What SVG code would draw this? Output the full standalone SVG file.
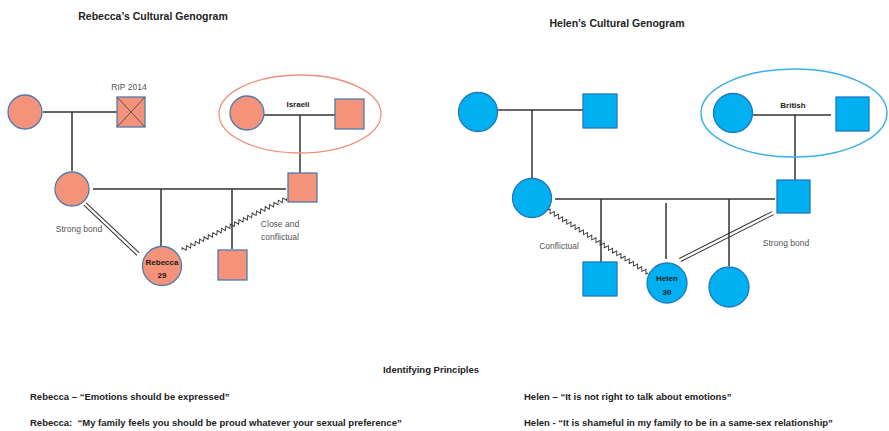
<svg xmlns="http://www.w3.org/2000/svg" width="889" height="431" viewBox="0 0 889 431">
<style>
.t{font-family:"Liberation Sans",Arial,sans-serif;fill:#222}
.title{font-size:10.5px;font-weight:bold;text-anchor:middle}
.lbl{font-size:8.5px;fill:#555;text-anchor:middle}
.blbl{font-size:8px;font-weight:bold;text-anchor:middle;fill:#222}
.nlbl{font-size:8px;font-weight:bold;text-anchor:middle;fill:#1a1a1a}
.body{font-size:9.5px;font-weight:bold}
.rf{fill:#F4937A;stroke:#4F7CAC;stroke-width:1.3}
.bf{fill:#00B0F0;stroke:#1E78C0;stroke-width:1.3}
.ln{stroke:#333;stroke-width:1.5;fill:none}
.zz{stroke:#333;stroke-width:0.9;fill:none}
.dl{stroke:#333;stroke-width:1;fill:none}
</style>
<defs>
<path id="zig" class="zz" d="M0,0 l1.25,-2 l2.5,4 l1.25,-2 l1.25,-2 l2.5,4 l1.25,-2 l1.25,-2 l2.5,4 l1.25,-2 l1.25,-2 l2.5,4 l1.25,-2 l1.25,-2 l2.5,4 l1.25,-2 l1.25,-2 l2.5,4 l1.25,-2 l1.25,-2 l2.5,4 l1.25,-2 l1.25,-2 l2.5,4 l1.25,-2 l1.25,-2 l2.5,4 l1.25,-2 l1.25,-2 l2.5,4 l1.25,-2 l1.25,-2 l2.5,4 l1.25,-2 l1.25,-2 l2.5,4 l1.25,-2 l1.25,-2 l2.5,4 l1.25,-2 l1.25,-2 l2.5,4 l1.25,-2 l1.25,-2 l2.5,4 l1.25,-2 l1.25,-2 l2.5,4 l1.25,-2 l1.25,-2 l2.5,4 l1.25,-2 l1.25,-2 l2.5,4 l1.25,-2 l1.25,-2 l2.5,4 l1.25,-2 l1.25,-2 l2.5,4 l1.25,-2 l1.25,-2 l2.5,4 l1.25,-2 l1.25,-2 l2.5,4 l1.25,-2 l1.25,-2 l2.5,4 l1.25,-2 l1.25,-2 l2.5,4 l1.25,-2"/>
</defs>
<rect width="889" height="431" fill="#fff"/>
<text class="t title" x="153" y="20">Rebecca’s Cultural Genogram</text>
<text class="t title" x="617" y="27">Helen’s Cultural Genogram</text>

<g id="connectors">
<line class="ln" x1="43" y1="112" x2="117" y2="112"/>
<line class="ln" x1="72" y1="112" x2="72" y2="171"/>
<line class="ln" x1="263" y1="115" x2="335" y2="115"/>
<line class="ln" x1="300" y1="115" x2="300" y2="173"/>
<line class="ln" x1="93" y1="189" x2="286" y2="189"/>
<line class="ln" x1="161" y1="189" x2="161" y2="246"/>
<line class="ln" x1="232" y1="189" x2="232" y2="249"/>
<g transform="translate(85,204) rotate(43.3)">
<line class="dl" x1="0" y1="-1.7" x2="73" y2="-1.7"/>
<line class="dl" x1="0" y1="1.7" x2="73" y2="1.7"/>
</g>
<g transform="translate(182,250) rotate(-26.3) scale(0.975,1)"><use href="#zig"/></g>
<line class="ln" x1="498" y1="110" x2="583" y2="110"/>
<line class="ln" x1="532" y1="110" x2="532" y2="178"/>
<line class="ln" x1="753" y1="115" x2="831" y2="115"/>
<line class="ln" x1="795" y1="115" x2="795" y2="180"/>
<line class="ln" x1="555" y1="199" x2="775" y2="199"/>
<line class="ln" x1="601" y1="199" x2="601" y2="262"/>
<line class="ln" x1="666" y1="203" x2="666" y2="259"/>
<line class="ln" x1="729" y1="199" x2="729" y2="266"/>
<g transform="translate(548,210) rotate(32.2) scale(0.985,1)"><use href="#zig"/></g>
<g transform="translate(680,260) rotate(-26.8)">
<line class="dl" x1="0" y1="-1.7" x2="104" y2="-1.7"/>
<line class="dl" x1="0" y1="1.7" x2="104" y2="1.7"/>
</g>
</g>

<g id="r-grandmother"><circle class="rf" cx="25" cy="112" r="17"/></g>
<g id="r-grandfather">
<rect class="rf" x="117" y="97" width="28" height="30"/>
<line x1="117" y1="97" x2="145" y2="127" stroke="#555" stroke-width="1"/>
<line x1="145" y1="97" x2="117" y2="127" stroke="#555" stroke-width="1"/>
<text class="t lbl" x="129" y="90">RIP 2014</text>
</g>
<g id="r-israeli">
<ellipse cx="300" cy="114" rx="81" ry="39" fill="none" stroke="#F0907A" stroke-width="1.3"/>
<text class="t blbl" x="298" y="107">Israeli</text>
</g>
<g id="r-israeli-grandmother"><circle class="rf" cx="247" cy="113" r="17"/></g>
<g id="r-israeli-grandfather"><rect class="rf" x="335" y="99" width="29" height="30"/></g>
<g id="r-mother"><circle class="rf" cx="72" cy="189" r="17"/></g>
<g id="r-father"><rect class="rf" x="288" y="173" width="29" height="29"/></g>
<g id="r-rebecca">
<circle class="rf" cx="162" cy="266" r="19.5"/>
<text class="t nlbl" x="162" y="265">Rebecca</text>
<text class="t nlbl" x="162" y="278">29</text>
</g>
<g id="r-brother"><rect class="rf" x="218" y="250" width="29" height="30"/></g>
<text class="t lbl" x="79" y="232">Strong bond</text>
<text class="t lbl" x="280" y="227">Close and</text>
<text class="t lbl" x="280" y="240">conflictual</text>

<g id="h-grandmother"><circle class="bf" cx="478" cy="112" r="19.5"/></g>
<g id="h-grandfather"><rect class="bf" x="583" y="94" width="34" height="34"/></g>
<g id="h-british">
<ellipse cx="794" cy="113" rx="93" ry="44" fill="none" stroke="#3AB0E8" stroke-width="1.5"/>
<text class="t blbl" x="793" y="108">British</text>
</g>
<g id="h-british-grandmother"><circle class="bf" cx="733" cy="113" r="19.5"/></g>
<g id="h-british-grandfather"><rect class="bf" x="836" y="97" width="33" height="34"/></g>
<g id="h-mother"><circle class="bf" cx="532" cy="198" r="19.5"/></g>
<g id="h-father"><rect class="bf" x="777" y="180" width="33" height="33"/></g>
<g id="h-brother"><rect class="bf" x="583" y="262" width="34" height="34"/></g>
<g id="h-helen">
<circle class="bf" cx="667" cy="283" r="20"/>
<text class="t nlbl" x="667" y="281">Helen</text>
<text class="t nlbl" x="667" y="295">30</text>
</g>
<g id="h-sister"><circle class="bf" cx="729" cy="287" r="20"/></g>
<text class="t lbl" x="559" y="249">Conflictual</text>
<text class="t lbl" x="786" y="246">Strong bond</text>

<text class="t body" x="431" y="373" text-anchor="middle">Identifying Principles</text>
<text class="t body" x="30" y="400">Rebecca – “Emotions should be expressed”</text>
<text class="t body" x="524" y="400">Helen – “It is not right to talk about emotions”</text>
<text class="t body" x="30" y="426" xml:space="preserve">Rebecca:  “My family feels you should be proud whatever your sexual preference”</text>
<text class="t body" x="524" y="426">Helen - “It is shameful in my family to be in a same-sex relationship”</text>
</svg>
